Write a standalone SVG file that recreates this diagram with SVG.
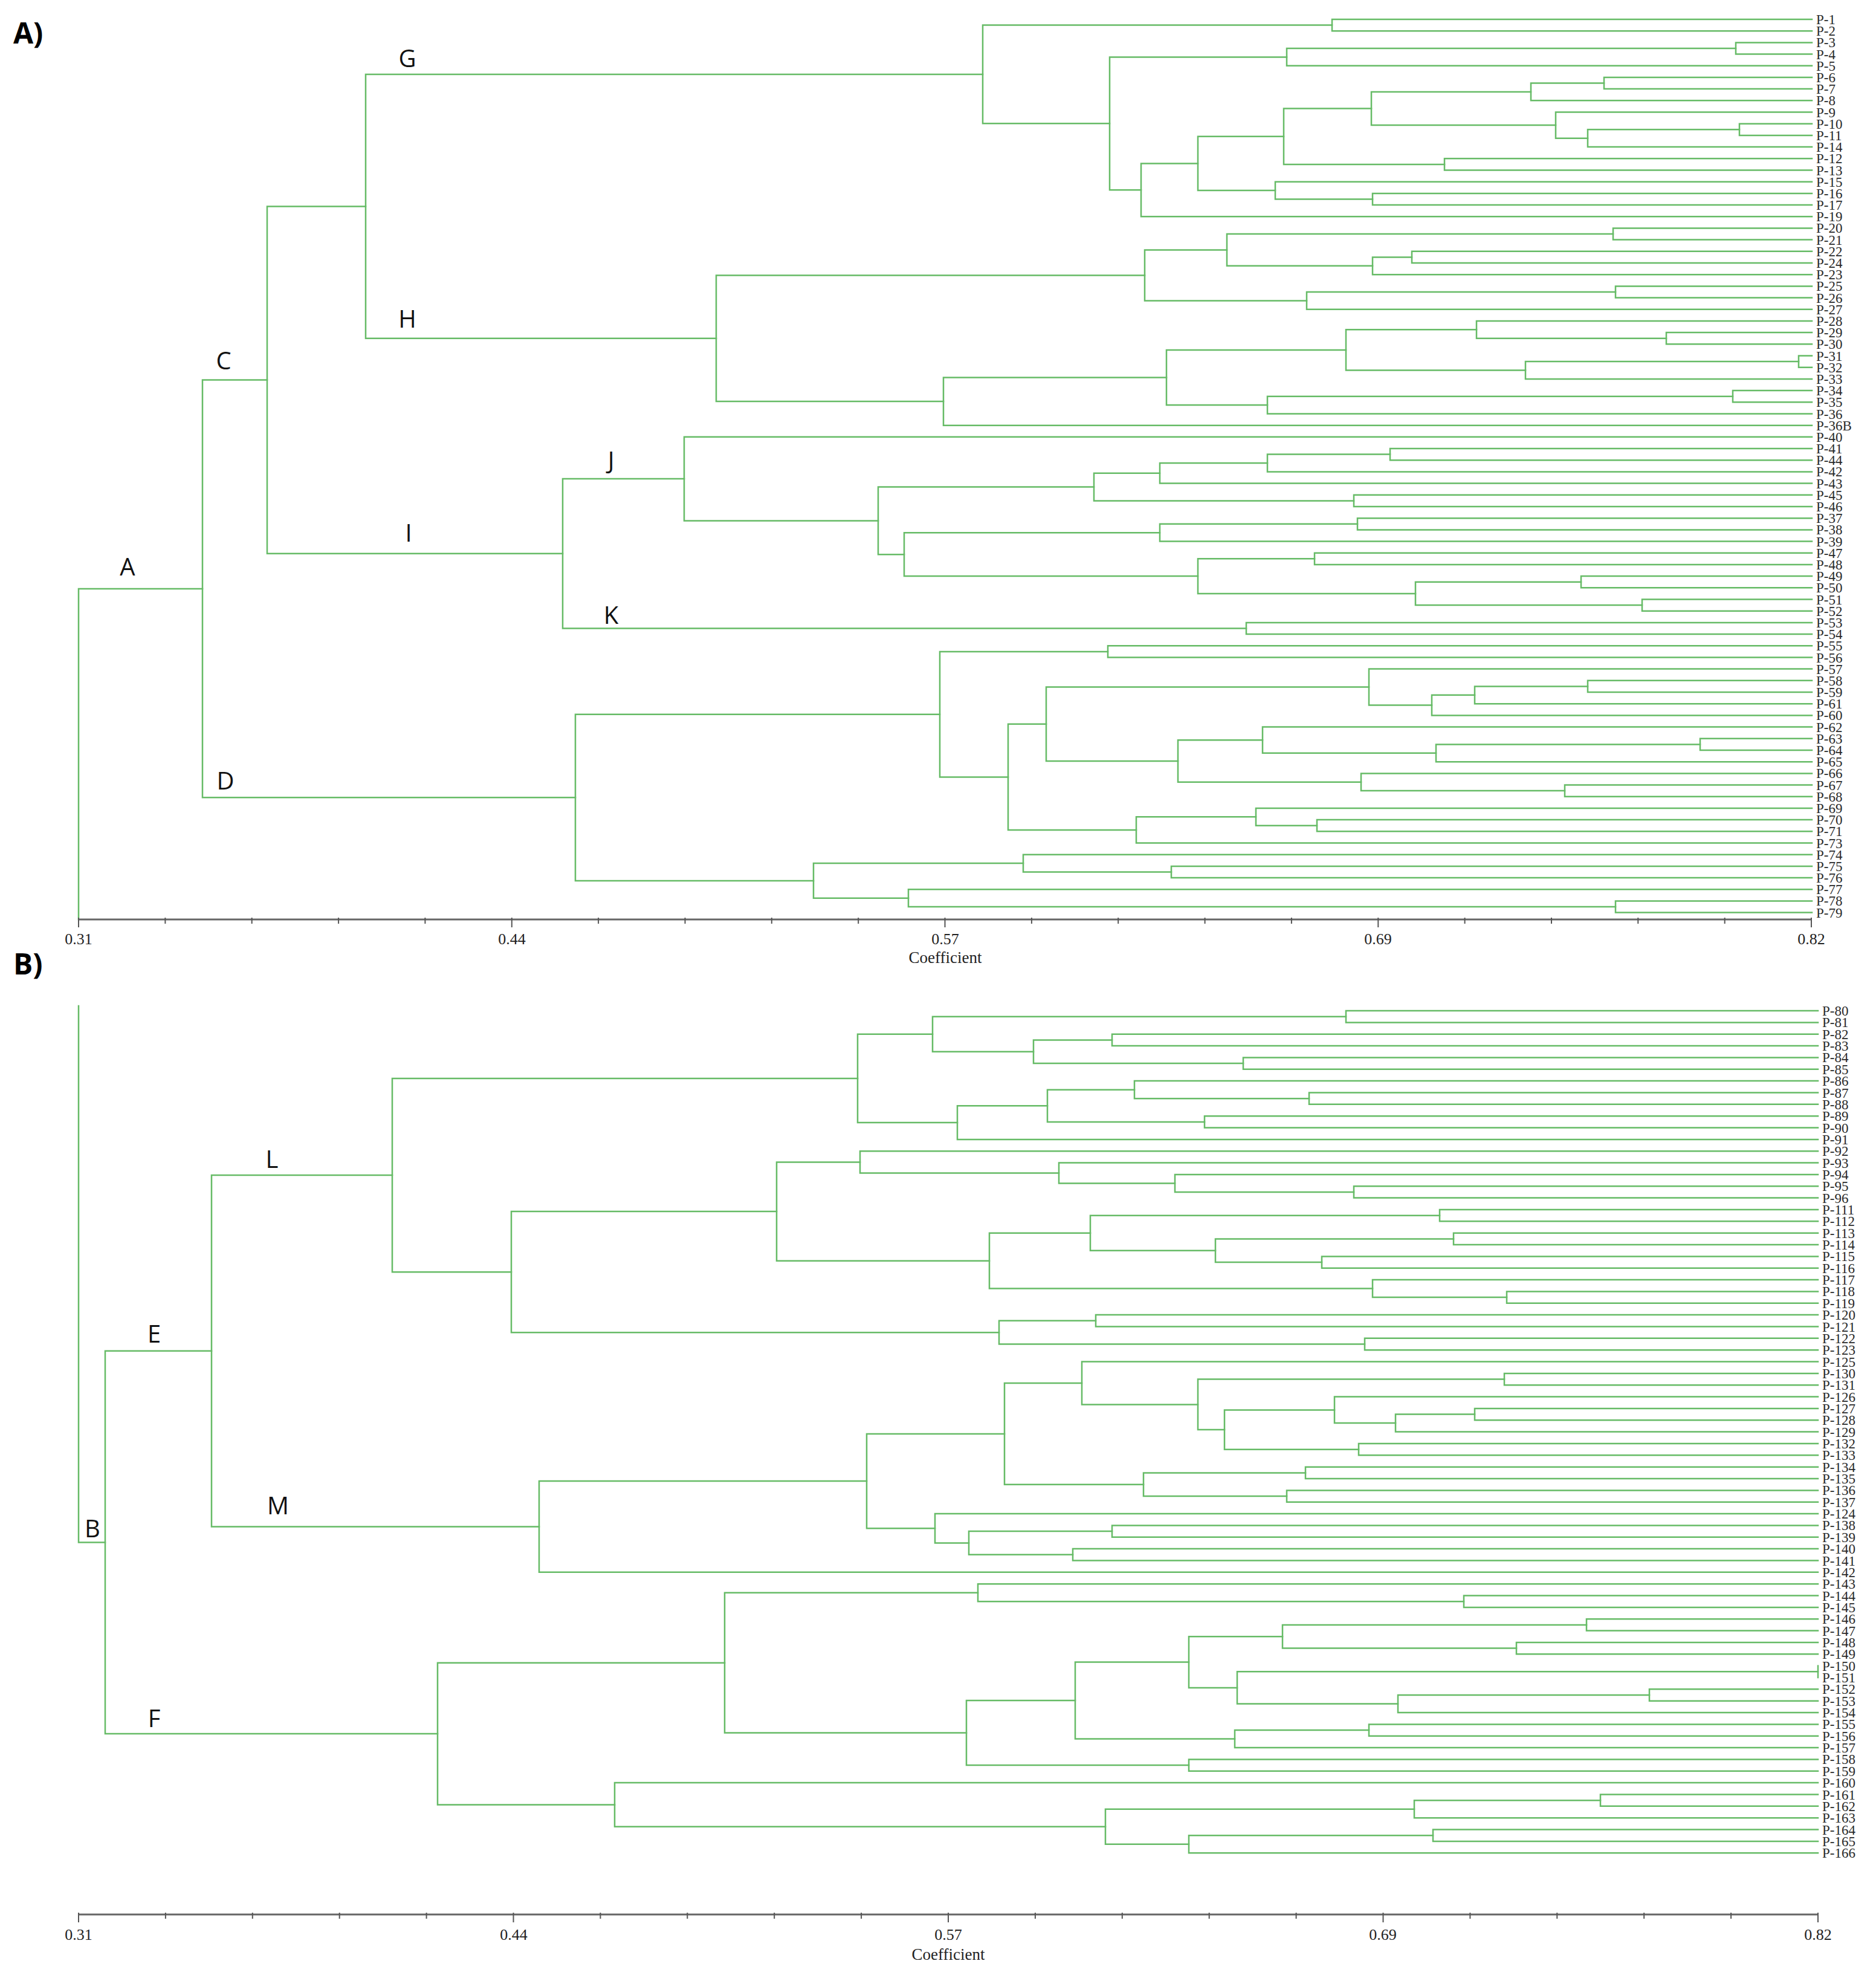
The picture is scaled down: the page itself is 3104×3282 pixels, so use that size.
<svg xmlns="http://www.w3.org/2000/svg" width="3104" height="3282" viewBox="0 0 3104 3282">
<style>
.br{fill:none;stroke:#66bb66;stroke-width:2.5;stroke-linecap:square}
.ax{fill:none;stroke:#666;stroke-width:3}
.tk{fill:none;stroke:#555;stroke-width:2}
.lf{font-family:"Liberation Serif",serif;font-size:23px;fill:#2a2a2a}
.tl{font-family:"Liberation Serif",serif;font-size:26px;fill:#222;text-anchor:middle}
.cl{font-family:"Open Sans","Liberation Sans",sans-serif;font-size:40px;fill:#111;text-anchor:middle}
.pn{font-family:"Open Sans","Liberation Sans",sans-serif;font-size:48px;font-weight:bold;fill:#000}
</style>
<rect width="3104" height="3282" fill="#fff"/>
<text class="pn" x="22" y="72">A)</text>
<text class="pn" x="22" y="1612">B)</text>
<g id="connectors">
<g id="treeA" class="br">
<path d="M2998 32 H2204 V51.2 H2998"/>
<path d="M2998 70.4 H2872 V89.6 H2998"/>
<path d="M2872 80 H2129 V108.8 H2998"/>
<path d="M2998 128 H2654 V147.1 H2998"/>
<path d="M2654 137.6 H2533 V166.3 H2998"/>
<path d="M2998 204.7 H2878 V223.9 H2998"/>
<path d="M2878 214.3 H2627 V243.1 H2998"/>
<path d="M2998 185.5 H2574 V228.7 H2627"/>
<path d="M2533 152 H2269 V207.1 H2574"/>
<path d="M2998 262.3 H2390 V281.5 H2998"/>
<path d="M2269 179.5 H2124 V271.9 H2390"/>
<path d="M2998 319.9 H2271 V339 H2998"/>
<path d="M2998 300.7 H2110 V329.5 H2271"/>
<path d="M2124 225.7 H1982 V315.1 H2110"/>
<path d="M1982 270.4 H1888 V358.2 H2998"/>
<path d="M2129 94.4 H1836 V314.3 H1888"/>
<path d="M2204 41.6 H1626 V204.3 H1836"/>
<path d="M2998 377.4 H2669 V396.6 H2998"/>
<path d="M2998 415.8 H2336 V435 H2998"/>
<path d="M2336 425.4 H2271 V454.2 H2998"/>
<path d="M2669 387 H2030 V439.8 H2271"/>
<path d="M2998 473.4 H2673 V492.6 H2998"/>
<path d="M2673 483 H2162 V511.8 H2998"/>
<path d="M2030 413.4 H1894 V497.4 H2162"/>
<path d="M2998 550.1 H2757 V569.3 H2998"/>
<path d="M2998 530.9 H2443 V559.7 H2757"/>
<path d="M2998 588.5 H2976 V607.7 H2998"/>
<path d="M2976 598.1 H2524 V626.9 H2998"/>
<path d="M2443 545.3 H2227 V612.5 H2524"/>
<path d="M2998 646.1 H2867 V665.3 H2998"/>
<path d="M2867 655.7 H2097 V684.5 H2998"/>
<path d="M2227 578.9 H1930 V670.1 H2097"/>
<path d="M1930 624.5 H1561 V703.7 H2998"/>
<path d="M1894 455.4 H1185 V664.1 H1561"/>
<path d="M1626 123 H605 V559.8 H1185"/>
<path d="M2998 742 H2300 V761.2 H2998"/>
<path d="M2300 751.6 H2097 V780.4 H2998"/>
<path d="M2097 766 H1919 V799.6 H2998"/>
<path d="M2998 818.8 H2240 V838 H2998"/>
<path d="M1919 782.8 H1810 V828.4 H2240"/>
<path d="M2998 857.2 H2246 V876.4 H2998"/>
<path d="M2246 866.8 H1919 V895.6 H2998"/>
<path d="M2998 914.7 H2175 V933.9 H2998"/>
<path d="M2998 953.1 H2616 V972.3 H2998"/>
<path d="M2998 991.5 H2717 V1010.7 H2998"/>
<path d="M2616 962.7 H2342 V1001.1 H2717"/>
<path d="M2175 924.3 H1982 V981.9 H2342"/>
<path d="M1919 881.2 H1496 V953.1 H1982"/>
<path d="M1810 805.6 H1453 V917.2 H1496"/>
<path d="M2998 722.8 H1132 V861.4 H1453"/>
<path d="M2998 1029.9 H2062 V1049.1 H2998"/>
<path d="M1132 792.1 H931 V1039.5 H2062"/>
<path d="M605 341.4 H442 V915.8 H931"/>
<path d="M2998 1068.3 H1833 V1087.5 H2998"/>
<path d="M2998 1125.8 H2627 V1145 H2998"/>
<path d="M2627 1135.4 H2440 V1164.2 H2998"/>
<path d="M2440 1149.8 H2369 V1183.4 H2998"/>
<path d="M2998 1106.6 H2265 V1166.6 H2369"/>
<path d="M2998 1221.8 H2813 V1241 H2998"/>
<path d="M2813 1231.4 H2376 V1260.2 H2998"/>
<path d="M2998 1202.6 H2089 V1245.8 H2376"/>
<path d="M2998 1298.5 H2589 V1317.7 H2998"/>
<path d="M2998 1279.4 H2252 V1308.1 H2589"/>
<path d="M2089 1224.2 H1949 V1293.8 H2252"/>
<path d="M2265 1136.6 H1731 V1259 H1949"/>
<path d="M2998 1356.1 H2179 V1375.3 H2998"/>
<path d="M2998 1336.9 H2078 V1365.7 H2179"/>
<path d="M2078 1351.3 H1880 V1394.5 H2998"/>
<path d="M1731 1197.8 H1668 V1372.9 H1880"/>
<path d="M1833 1077.9 H1555 V1285.4 H1668"/>
<path d="M2998 1432.9 H1938 V1452.1 H2998"/>
<path d="M2998 1413.7 H1693 V1442.5 H1938"/>
<path d="M2998 1490.4 H2673 V1509.6 H2998"/>
<path d="M2998 1471.3 H1503 V1500 H2673"/>
<path d="M1693 1428.1 H1346 V1485.7 H1503"/>
<path d="M1555 1181.7 H952 V1456.9 H1346"/>
<path d="M442 628.6 H335 V1319.3 H952"/>
<path d="M335 974 H130 V1521"/>
</g>
<g id="treeB" class="br">
<path d="M3008 1672 H2227 V1691.4 H3008"/>
<path d="M3008 1710.7 H1840 V1730.1 H3008"/>
<path d="M3008 1749.4 H2057 V1768.8 H3008"/>
<path d="M1840 1720.4 H1710 V1759.1 H2057"/>
<path d="M2227 1681.7 H1543 V1739.8 H1710"/>
<path d="M3008 1807.5 H2166 V1826.8 H3008"/>
<path d="M3008 1788.1 H1877 V1817.2 H2166"/>
<path d="M3008 1846.2 H1993 V1865.5 H3008"/>
<path d="M1877 1802.7 H1733 V1855.9 H1993"/>
<path d="M1733 1829.3 H1584 V1884.9 H3008"/>
<path d="M1543 1710.8 H1419 V1857.1 H1584"/>
<path d="M3008 1962.3 H2240 V1981.6 H3008"/>
<path d="M3008 1942.9 H1944 V1972 H2240"/>
<path d="M3008 1923.6 H1752 V1957.5 H1944"/>
<path d="M3008 1904.2 H1423 V1940.6 H1752"/>
<path d="M3008 2001 H2382 V2020.3 H3008"/>
<path d="M3008 2039.7 H2405 V2059 H3008"/>
<path d="M3008 2078.4 H2187 V2097.7 H3008"/>
<path d="M2405 2049.4 H2011 V2088.1 H2187"/>
<path d="M2382 2010.7 H1804 V2068.8 H2011"/>
<path d="M3008 2136.4 H2493 V2155.8 H3008"/>
<path d="M3008 2117.1 H2271 V2146.1 H2493"/>
<path d="M1804 2039.8 H1637 V2131.6 H2271"/>
<path d="M1423 1922.4 H1285 V2085.7 H1637"/>
<path d="M3008 2175.1 H1813 V2194.5 H3008"/>
<path d="M3008 2213.8 H2258 V2233.2 H3008"/>
<path d="M1813 2184.8 H1653 V2223.5 H2258"/>
<path d="M1285 2004.1 H846 V2204.2 H1653"/>
<path d="M1419 1784 H649 V2104.2 H846"/>
<path d="M3008 2271.9 H2489 V2291.2 H3008"/>
<path d="M3008 2329.9 H2440 V2349.3 H3008"/>
<path d="M2440 2339.6 H2309 V2368.6 H3008"/>
<path d="M3008 2310.6 H2208 V2354.1 H2309"/>
<path d="M3008 2388 H2248 V2407.3 H3008"/>
<path d="M2208 2332.4 H2026 V2397.7 H2248"/>
<path d="M2489 2281.6 H1982 V2365.1 H2026"/>
<path d="M3008 2252.5 H1790 V2323.4 H1982"/>
<path d="M3008 2426.7 H2160 V2446 H3008"/>
<path d="M3008 2465.4 H2129 V2484.7 H3008"/>
<path d="M2160 2436.4 H1892 V2475.1 H2129"/>
<path d="M1790 2288 H1662 V2455.7 H1892"/>
<path d="M3008 2523.4 H1840 V2542.8 H3008"/>
<path d="M3008 2562.1 H1775 V2581.5 H3008"/>
<path d="M1840 2533.1 H1603 V2571.8 H1775"/>
<path d="M3008 2504.1 H1547 V2552.4 H1603"/>
<path d="M1662 2371.9 H1434 V2528.3 H1547"/>
<path d="M1434 2450.1 H892 V2600.8 H3008"/>
<path d="M649 1944.1 H350 V2525.5 H892"/>
<path d="M3008 2639.5 H2422 V2658.9 H3008"/>
<path d="M3008 2620.2 H1618 V2649.2 H2422"/>
<path d="M3008 2678.2 H2625 V2697.6 H3008"/>
<path d="M3008 2716.9 H2509 V2736.3 H3008"/>
<path d="M2625 2687.9 H2122 V2726.6 H2509"/>
<path d="M3008 2755.6 V2775"/>
<path d="M3008 2794.3 H2729 V2813.7 H3008"/>
<path d="M2729 2804 H2313 V2833 H3008"/>
<path d="M3008 2765.3 H2047 V2818.5 H2313"/>
<path d="M2122 2707.3 H1967 V2791.9 H2047"/>
<path d="M3008 2852.4 H2265 V2871.7 H3008"/>
<path d="M2265 2862.1 H2043 V2891.1 H3008"/>
<path d="M1967 2749.6 H1779 V2876.6 H2043"/>
<path d="M3008 2910.4 H1967 V2929.8 H3008"/>
<path d="M1779 2813.1 H1599 V2920.1 H1967"/>
<path d="M1618 2634.7 H1199 V2866.6 H1599"/>
<path d="M3008 2968.5 H2648 V2987.8 H3008"/>
<path d="M2648 2978.2 H2340 V3007.2 H3008"/>
<path d="M3008 3026.5 H2371 V3045.9 H3008"/>
<path d="M2371 3036.2 H1967 V3065.2 H3008"/>
<path d="M2340 2992.7 H1829 V3050.7 H1967"/>
<path d="M3008 2949.1 H1017 V3021.7 H1829"/>
<path d="M1199 2750.7 H724 V2985.4 H1017"/>
<path d="M350 2234.8 H174 V2868.1 H724"/>
<path d="M174 2551.5 H130 V1664"/>
</g>
</g>
<g id="axisA">
<path class="ax" d="M130 1521 H2997"/>
<path class="tk" d="M130 1518 V1534 M273.4 1518 V1528 M416.7 1518 V1528 M560.1 1518 V1528 M703.4 1518 V1528 M846.8 1518 V1534 M990.1 1518 V1528 M1133.5 1518 V1528 M1276.8 1518 V1528 M1420.2 1518 V1528 M1563.5 1518 V1534 M1706.9 1518 V1528 M1850.2 1518 V1528 M1993.6 1518 V1528 M2136.9 1518 V1528 M2280.3 1518 V1534 M2423.6 1518 V1528 M2567 1518 V1528 M2710.3 1518 V1528 M2853.7 1518 V1528 M2997 1518 V1534"/>
<text class="tl" x="130" y="1562">0.31</text>
<text class="tl" x="847" y="1562">0.44</text>
<text class="tl" x="1564" y="1562">0.57</text>
<text class="tl" x="2280" y="1562">0.69</text>
<text class="tl" x="2997" y="1562">0.82</text>
<text class="tl" x="1564" y="1593" style="font-size:27px">Coefficient</text>
</g>
<g id="axisB">
<path class="ax" d="M130 3167 H3008"/>
<path class="tk" d="M130 3164 V3180 M273.9 3164 V3174 M417.8 3164 V3174 M561.7 3164 V3174 M705.6 3164 V3174 M849.5 3164 V3180 M993.4 3164 V3174 M1137.3 3164 V3174 M1281.2 3164 V3174 M1425.1 3164 V3174 M1569 3164 V3180 M1712.9 3164 V3174 M1856.8 3164 V3174 M2000.7 3164 V3174 M2144.6 3164 V3174 M2288.5 3164 V3180 M2432.4 3164 V3174 M2576.3 3164 V3174 M2720.2 3164 V3174 M2864.1 3164 V3174 M3008 3164 V3180"/>
<text class="tl" x="130" y="3209">0.31</text>
<text class="tl" x="850" y="3209">0.44</text>
<text class="tl" x="1569" y="3209">0.57</text>
<text class="tl" x="2288" y="3209">0.69</text>
<text class="tl" x="3008" y="3209">0.82</text>
<text class="tl" x="1569" y="3242" style="font-size:27px">Coefficient</text>
</g>
<g id="clusters">
<g id="c-G"><text class="cl" x="674" y="111">G</text></g>
<g id="c-H"><text class="cl" x="674" y="542">H</text></g>
<g id="c-C"><text class="cl" x="370" y="611">C</text></g>
<g id="c-A"><text class="cl" x="211" y="952">A</text></g>
<g id="c-J"><text class="cl" x="1011" y="776">J</text></g>
<g id="c-I"><text class="cl" x="676" y="896">I</text></g>
<g id="c-K"><text class="cl" x="1011" y="1032">K</text></g>
<g id="c-D"><text class="cl" x="373" y="1306">D</text></g>
<g id="c-L"><text class="cl" x="450" y="1932">L</text></g>
<g id="c-E"><text class="cl" x="255" y="2221">E</text></g>
<g id="c-M"><text class="cl" x="460" y="2505">M</text></g>
<g id="c-B"><text class="cl" x="153" y="2543">B</text></g>
<g id="c-F"><text class="cl" x="255" y="2857">F</text></g>
</g>
<g id="leavesA" class="lf" transform="translate(3005,8)">
<g id="P-1"><text y="32">P-1</text></g>
<g id="P-2"><text y="51.2">P-2</text></g>
<g id="P-3"><text y="70.4">P-3</text></g>
<g id="P-4"><text y="89.6">P-4</text></g>
<g id="P-5"><text y="108.8">P-5</text></g>
<g id="P-6"><text y="128">P-6</text></g>
<g id="P-7"><text y="147.1">P-7</text></g>
<g id="P-8"><text y="166.3">P-8</text></g>
<g id="P-9"><text y="185.5">P-9</text></g>
<g id="P-10"><text y="204.7">P-10</text></g>
<g id="P-11"><text y="223.9">P-11</text></g>
<g id="P-14"><text y="243.1">P-14</text></g>
<g id="P-12"><text y="262.3">P-12</text></g>
<g id="P-13"><text y="281.5">P-13</text></g>
<g id="P-15"><text y="300.7">P-15</text></g>
<g id="P-16"><text y="319.9">P-16</text></g>
<g id="P-17"><text y="339">P-17</text></g>
<g id="P-19"><text y="358.2">P-19</text></g>
<g id="P-20"><text y="377.4">P-20</text></g>
<g id="P-21"><text y="396.6">P-21</text></g>
<g id="P-22"><text y="415.8">P-22</text></g>
<g id="P-24"><text y="435">P-24</text></g>
<g id="P-23"><text y="454.2">P-23</text></g>
<g id="P-25"><text y="473.4">P-25</text></g>
<g id="P-26"><text y="492.6">P-26</text></g>
<g id="P-27"><text y="511.8">P-27</text></g>
<g id="P-28"><text y="530.9">P-28</text></g>
<g id="P-29"><text y="550.1">P-29</text></g>
<g id="P-30"><text y="569.3">P-30</text></g>
<g id="P-31"><text y="588.5">P-31</text></g>
<g id="P-32"><text y="607.7">P-32</text></g>
<g id="P-33"><text y="626.9">P-33</text></g>
<g id="P-34"><text y="646.1">P-34</text></g>
<g id="P-35"><text y="665.3">P-35</text></g>
<g id="P-36"><text y="684.5">P-36</text></g>
<g id="P-36B"><text y="703.7">P-36B</text></g>
<g id="P-40"><text y="722.8">P-40</text></g>
<g id="P-41"><text y="742">P-41</text></g>
<g id="P-44"><text y="761.2">P-44</text></g>
<g id="P-42"><text y="780.4">P-42</text></g>
<g id="P-43"><text y="799.6">P-43</text></g>
<g id="P-45"><text y="818.8">P-45</text></g>
<g id="P-46"><text y="838">P-46</text></g>
<g id="P-37"><text y="857.2">P-37</text></g>
<g id="P-38"><text y="876.4">P-38</text></g>
<g id="P-39"><text y="895.6">P-39</text></g>
<g id="P-47"><text y="914.7">P-47</text></g>
<g id="P-48"><text y="933.9">P-48</text></g>
<g id="P-49"><text y="953.1">P-49</text></g>
<g id="P-50"><text y="972.3">P-50</text></g>
<g id="P-51"><text y="991.5">P-51</text></g>
<g id="P-52"><text y="1010.7">P-52</text></g>
<g id="P-53"><text y="1029.9">P-53</text></g>
<g id="P-54"><text y="1049.1">P-54</text></g>
<g id="P-55"><text y="1068.3">P-55</text></g>
<g id="P-56"><text y="1087.5">P-56</text></g>
<g id="P-57"><text y="1106.6">P-57</text></g>
<g id="P-58"><text y="1125.8">P-58</text></g>
<g id="P-59"><text y="1145">P-59</text></g>
<g id="P-61"><text y="1164.2">P-61</text></g>
<g id="P-60"><text y="1183.4">P-60</text></g>
<g id="P-62"><text y="1202.6">P-62</text></g>
<g id="P-63"><text y="1221.8">P-63</text></g>
<g id="P-64"><text y="1241">P-64</text></g>
<g id="P-65"><text y="1260.2">P-65</text></g>
<g id="P-66"><text y="1279.4">P-66</text></g>
<g id="P-67"><text y="1298.5">P-67</text></g>
<g id="P-68"><text y="1317.7">P-68</text></g>
<g id="P-69"><text y="1336.9">P-69</text></g>
<g id="P-70"><text y="1356.1">P-70</text></g>
<g id="P-71"><text y="1375.3">P-71</text></g>
<g id="P-73"><text y="1394.5">P-73</text></g>
<g id="P-74"><text y="1413.7">P-74</text></g>
<g id="P-75"><text y="1432.9">P-75</text></g>
<g id="P-76"><text y="1452.1">P-76</text></g>
<g id="P-77"><text y="1471.3">P-77</text></g>
<g id="P-78"><text y="1490.4">P-78</text></g>
<g id="P-79"><text y="1509.6">P-79</text></g>
</g>
<g id="leavesB" class="lf" transform="translate(3015,8)">
<g id="P-80"><text y="1672">P-80</text></g>
<g id="P-81"><text y="1691.4">P-81</text></g>
<g id="P-82"><text y="1710.7">P-82</text></g>
<g id="P-83"><text y="1730.1">P-83</text></g>
<g id="P-84"><text y="1749.4">P-84</text></g>
<g id="P-85"><text y="1768.8">P-85</text></g>
<g id="P-86"><text y="1788.1">P-86</text></g>
<g id="P-87"><text y="1807.5">P-87</text></g>
<g id="P-88"><text y="1826.8">P-88</text></g>
<g id="P-89"><text y="1846.2">P-89</text></g>
<g id="P-90"><text y="1865.5">P-90</text></g>
<g id="P-91"><text y="1884.9">P-91</text></g>
<g id="P-92"><text y="1904.2">P-92</text></g>
<g id="P-93"><text y="1923.6">P-93</text></g>
<g id="P-94"><text y="1942.9">P-94</text></g>
<g id="P-95"><text y="1962.3">P-95</text></g>
<g id="P-96"><text y="1981.6">P-96</text></g>
<g id="P-111"><text y="2001">P-111</text></g>
<g id="P-112"><text y="2020.3">P-112</text></g>
<g id="P-113"><text y="2039.7">P-113</text></g>
<g id="P-114"><text y="2059">P-114</text></g>
<g id="P-115"><text y="2078.4">P-115</text></g>
<g id="P-116"><text y="2097.7">P-116</text></g>
<g id="P-117"><text y="2117.1">P-117</text></g>
<g id="P-118"><text y="2136.4">P-118</text></g>
<g id="P-119"><text y="2155.8">P-119</text></g>
<g id="P-120"><text y="2175.1">P-120</text></g>
<g id="P-121"><text y="2194.5">P-121</text></g>
<g id="P-122"><text y="2213.8">P-122</text></g>
<g id="P-123"><text y="2233.2">P-123</text></g>
<g id="P-125"><text y="2252.5">P-125</text></g>
<g id="P-130"><text y="2271.9">P-130</text></g>
<g id="P-131"><text y="2291.2">P-131</text></g>
<g id="P-126"><text y="2310.6">P-126</text></g>
<g id="P-127"><text y="2329.9">P-127</text></g>
<g id="P-128"><text y="2349.3">P-128</text></g>
<g id="P-129"><text y="2368.6">P-129</text></g>
<g id="P-132"><text y="2388">P-132</text></g>
<g id="P-133"><text y="2407.3">P-133</text></g>
<g id="P-134"><text y="2426.7">P-134</text></g>
<g id="P-135"><text y="2446">P-135</text></g>
<g id="P-136"><text y="2465.4">P-136</text></g>
<g id="P-137"><text y="2484.7">P-137</text></g>
<g id="P-124"><text y="2504.1">P-124</text></g>
<g id="P-138"><text y="2523.4">P-138</text></g>
<g id="P-139"><text y="2542.8">P-139</text></g>
<g id="P-140"><text y="2562.1">P-140</text></g>
<g id="P-141"><text y="2581.5">P-141</text></g>
<g id="P-142"><text y="2600.8">P-142</text></g>
<g id="P-143"><text y="2620.2">P-143</text></g>
<g id="P-144"><text y="2639.5">P-144</text></g>
<g id="P-145"><text y="2658.9">P-145</text></g>
<g id="P-146"><text y="2678.2">P-146</text></g>
<g id="P-147"><text y="2697.6">P-147</text></g>
<g id="P-148"><text y="2716.9">P-148</text></g>
<g id="P-149"><text y="2736.3">P-149</text></g>
<g id="P-150"><text y="2755.6">P-150</text></g>
<g id="P-151"><text y="2775">P-151</text></g>
<g id="P-152"><text y="2794.3">P-152</text></g>
<g id="P-153"><text y="2813.7">P-153</text></g>
<g id="P-154"><text y="2833">P-154</text></g>
<g id="P-155"><text y="2852.4">P-155</text></g>
<g id="P-156"><text y="2871.7">P-156</text></g>
<g id="P-157"><text y="2891.1">P-157</text></g>
<g id="P-158"><text y="2910.4">P-158</text></g>
<g id="P-159"><text y="2929.8">P-159</text></g>
<g id="P-160"><text y="2949.1">P-160</text></g>
<g id="P-161"><text y="2968.5">P-161</text></g>
<g id="P-162"><text y="2987.8">P-162</text></g>
<g id="P-163"><text y="3007.2">P-163</text></g>
<g id="P-164"><text y="3026.5">P-164</text></g>
<g id="P-165"><text y="3045.9">P-165</text></g>
<g id="P-166"><text y="3065.2">P-166</text></g>
</g>
</svg>
